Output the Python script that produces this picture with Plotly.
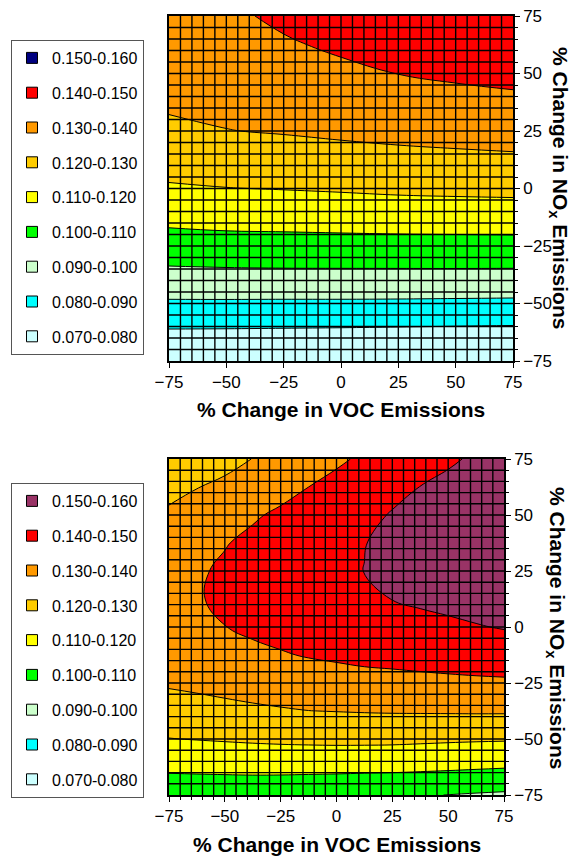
import plotly.graph_objects as go

# ---------------- data ----------------
voc_top = [-75, -50, -25, 0, 25, 50, 75]
nox_top = [-75, -62.5, -50, -37.5, -25, -12.5, 0, 12.5, 25, 37.5, 50, 62.5, 75]
ozone_top = [
    [0.0720, 0.0720, 0.0720, 0.0720, 0.0720, 0.0720, 0.0720],
    [0.0789, 0.0788, 0.0786, 0.0784, 0.0781, 0.0778, 0.0775],
    [0.0887, 0.0887, 0.0886, 0.0886, 0.0885, 0.0883, 0.0881],
    [0.0976, 0.0979, 0.0981, 0.0981, 0.0981, 0.0981, 0.0980],
    [0.1055, 0.1062, 0.1064, 0.1066, 0.1067, 0.1068, 0.1069],
    [0.1126, 0.1134, 0.1137, 0.1141, 0.1146, 0.1148, 0.1150],
    [0.1190, 0.1198, 0.1203, 0.1209, 0.1216, 0.1220, 0.1223],
    [0.1238, 0.1248, 0.1257, 0.1268, 0.1276, 0.1281, 0.1286],
    [0.1284, 0.1298, 0.1306, 0.1315, 0.1323, 0.1330, 0.1336],
    [0.1312, 0.1321, 0.1334, 0.1349, 0.1362, 0.1374, 0.1383],
    [0.1332, 0.1342, 0.1363, 0.1383, 0.1401, 0.1413, 0.1422],
    [0.1351, 0.1364, 0.1391, 0.1413, 0.1433, 0.1447, 0.1456],
    [0.1370, 0.1385, 0.1415, 0.1440, 0.1465, 0.1480, 0.1490],
]

voc_bottom = [-75, -62.5, -50, -37.5, -25, -12.5, 0, 12.5, 25, 37.5, 50, 62.5, 75]
nox_bottom = [-75, -62.5, -50, -37.5, -25, -12.5, 0, 12.5, 25, 37.5, 50, 62.5, 75]
ozone_bottom = [
    [0.1038, 0.1037, 0.1036, 0.1036, 0.1032, 0.1028, 0.1024, 0.1019, 0.1017, 0.1010, 0.0998, 0.0992, 0.0986],
    [0.1118, 0.1121, 0.1124, 0.1126, 0.1127, 0.1126, 0.1125, 0.1123, 0.1121, 0.1118, 0.1115, 0.1110, 0.1105],
    [0.1198, 0.1203, 0.1208, 0.1213, 0.1217, 0.1220, 0.1222, 0.1222, 0.1221, 0.1217, 0.1213, 0.1210, 0.1208],
    [0.1256, 0.1265, 0.1274, 0.1284, 0.1292, 0.1299, 0.1302, 0.1305, 0.1307, 0.1308, 0.1309, 0.1310, 0.1310],
    [0.1311, 0.1320, 0.1331, 0.1340, 0.1349, 0.1357, 0.1361, 0.1368, 0.1372, 0.1378, 0.1382, 0.1385, 0.1387],
    [0.1347, 0.1359, 0.1372, 0.1384, 0.1394, 0.1405, 0.1414, 0.1423, 0.1428, 0.1432, 0.1437, 0.1443, 0.1449],
    [0.1369, 0.1384, 0.1399, 0.1413, 0.1426, 0.1439, 0.1451, 0.1463, 0.1471, 0.1477, 0.1485, 0.1495, 0.1505],
    [0.1377, 0.1395, 0.1412, 0.1428, 0.1444, 0.1460, 0.1475, 0.1488, 0.1501, 0.1512, 0.1522, 0.1534, 0.1545],
    [0.1371, 0.1391, 0.1411, 0.1430, 0.1448, 0.1466, 0.1484, 0.1501, 0.1516, 0.1531, 0.1543, 0.1558, 0.1571],
    [0.1351, 0.1374, 0.1396, 0.1417, 0.1437, 0.1458, 0.1479, 0.1498, 0.1518, 0.1535, 0.1550, 0.1568, 0.1583],
    [0.1317, 0.1342, 0.1366, 0.1391, 0.1413, 0.1436, 0.1460, 0.1481, 0.1505, 0.1525, 0.1543, 0.1564, 0.1581],
    [0.1269, 0.1297, 0.1323, 0.1350, 0.1374, 0.1400, 0.1427, 0.1451, 0.1479, 0.1501, 0.1522, 0.1545, 0.1565],
    [0.1210, 0.1237, 0.1266, 0.1302, 0.1325, 0.1355, 0.1385, 0.1415, 0.1438, 0.1463, 0.1487, 0.1513, 0.1535],
]

band_labels = ["0.150-0.160", "0.140-0.150", "0.130-0.140", "0.120-0.130",
               "0.110-0.120", "0.100-0.110", "0.090-0.100", "0.080-0.090",
               "0.070-0.080"]
band_colors_top = ["#000080", "#FF0000", "#FF9900", "#FFCC00", "#FFFF00",
                   "#00FF00", "#CCFFCC", "#00FFFF", "#CCFFFF"]
band_colors_bottom = ["#993366", "#FF0000", "#FF9900", "#FFCC00", "#FFFF00",
                      "#00FF00", "#CCFFCC", "#00FFFF", "#CCFFFF"]
tick_vals = [-75, -50, -25, 0, 25, 50, 75]

x_title = "<b>% Change in VOC Emissions</b>"
y_title = "<b>% Change in NO<sub>x</sub> Emissions</b>"

FONT = "Liberation Sans, Arial, sans-serif"
W, H = 573, 860


def band_scale(colors_desc):
    asc = list(reversed(colors_desc))
    n = len(asc) - 1
    scale = []
    for k, c in enumerate(asc):
        lo = max(0.0, (k - 0.5) / n)
        hi = min(1.0, (k + 0.5) / n)
        scale.append([lo, c])
        scale.append([hi, c])
    return scale


fig = go.Figure()

panels = [
    dict(x=voc_top, y=nox_top, z=ozone_top, colors=band_colors_top,
         xa="x", ya="y", legend="legend"),
    dict(x=voc_bottom, y=nox_bottom, z=ozone_bottom, colors=band_colors_bottom,
         xa="x2", ya="y2", legend="legend2"),
]

for p in panels:
    fig.add_trace(go.Contour(
        x=p["x"], y=p["y"], z=p["z"],
        xaxis=p["xa"], yaxis=p["ya"],
        autocontour=False,
        contours=dict(start=0.08, end=0.15, size=0.01, coloring="fill", showlines=True),
        line=dict(color="black", width=1, smoothing=1.2),
        colorscale=band_scale(p["colors"]),
        showscale=False, hoverinfo="skip", showlegend=False,
    ))
    for i, (lab, col) in enumerate(zip(band_labels, p["colors"])):
        fig.add_trace(go.Scatter(
            x=[None], y=[None], mode="markers", name=lab,
            marker=dict(symbol="square", size=11, color=col,
                        line=dict(color="black", width=1)),
            xaxis=p["xa"], yaxis=p["ya"], legend=p["legend"],
            legendgroup=p["legend"] + str(i), showlegend=True,
        ))

# grid overlay (drawn above the filled contours, every 5 %)
shapes = []
for xr, yr in (("x", "y"), ("x2", "y2")):
    for v in range(-70, 75, 5):
        shapes.append(dict(type="line", xref=xr, yref=yr, x0=v, x1=v, y0=-75, y1=75,
                           line=dict(color="black", width=1.4), layer="above"))
        shapes.append(dict(type="line", xref=xr, yref=yr, y0=v, y1=v, x0=-75, x1=75,
                           line=dict(color="black", width=1.4), layer="above"))

axis_common = dict(range=[-75, 75], tickvals=tick_vals, ticks="outside", ticklen=5,
                   tickcolor="black", showgrid=False, zeroline=False, showline=True,
                   linecolor="black", linewidth=1.5, mirror=True, automargin=False,
                   tickfont=dict(family=FONT, size=17, color="black"))

top_x = [169 / W, 513 / W]
top_y = [1 - 361 / H, 1 - 16 / H]
bot_x = [169 / W, 504 / W]
bot_y = [1 - 795 / H, 1 - 459 / H]

legend_common = dict(xanchor="left", yanchor="top", bgcolor="white",
                     bordercolor="#555555", borderwidth=1,
                     font=dict(family=FONT, size=16, color="black"),
                     tracegroupgap=11, itemwidth=30, traceorder="grouped")

title_font = dict(family=FONT, size=21, color="black")

fig.update_layout(
    width=W, height=H,
    margin=dict(l=0, r=0, t=0, b=0, pad=0, autoexpand=False),
    paper_bgcolor="white", plot_bgcolor="white",
    xaxis=dict(domain=top_x, anchor="y", **axis_common),
    yaxis=dict(domain=top_y, anchor="x", side="right",
               minor=dict(dtick=5, ticks="outside", ticklen=3, tickcolor="black"),
               **axis_common),
    xaxis2=dict(domain=bot_x, anchor="y2",
                minor=dict(dtick=5, ticks="outside", ticklen=3, tickcolor="black"),
                **axis_common),
    yaxis2=dict(domain=bot_y, anchor="x2", side="right",
                minor=dict(dtick=5, ticks="outside", ticklen=3, tickcolor="black"),
                **axis_common),
    legend=dict(x=11 / W, y=1 - 40 / H, **legend_common),
    legend2=dict(x=11 / W, y=1 - 483 / H, **legend_common),
    shapes=shapes,
    annotations=[
        dict(text=x_title, xref="paper", yref="paper", x=341 / W, y=1 - 409 / H,
             xanchor="center", yanchor="middle", showarrow=False, font=title_font),
        dict(text=x_title, xref="paper", yref="paper", x=337 / W, y=1 - 844 / H,
             xanchor="center", yanchor="middle", showarrow=False, font=title_font),
        dict(text=y_title, xref="paper", yref="paper", x=559 / W, y=1 - 188 / H,
             xanchor="center", yanchor="middle", textangle=90, showarrow=False,
             font=title_font),
        dict(text=y_title, xref="paper", yref="paper", x=556 / W, y=1 - 628 / H,
             xanchor="center", yanchor="middle", textangle=90, showarrow=False,
             font=title_font),
    ],
)

fig.write_html("out.html",
               config={"displayModeBar": False},
               post_script="document.body.style.margin='0';document.body.style.overflow='hidden';")
